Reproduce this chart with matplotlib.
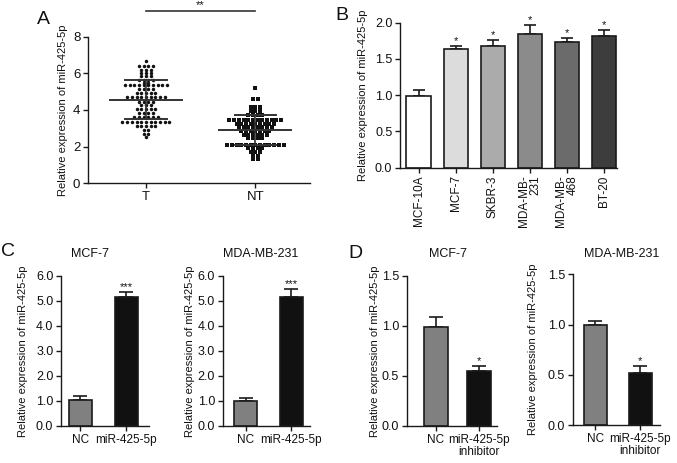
import matplotlib
matplotlib.use("Agg")
import matplotlib.pyplot as plt
import numpy as np

plt.rcParams['font.family'] = ['Liberation Sans', 'DejaVu Sans']

W, H = 677, 463

# ---------------- data ----------------
# Panel A: scatter values (tumour T, non-tumour NT)
t_values = [6.7,
            6.4, 6.4, 6.4, 6.4,
            6.2, 6.2, 6.2,
            6.0, 6.0, 6.0,
            5.85, 5.85, 5.85,
            5.65, 5.65, 5.65, 5.65,
            5.5, 5.5,
            5.35, 5.35, 5.35, 5.35, 5.35, 5.35, 5.35, 5.35, 5.35, 5.35,
            5.15, 5.15, 5.15, 5.15,
            4.95, 4.95, 4.95, 4.95, 4.95,
            4.7, 4.7, 4.7, 4.7, 4.7, 4.7, 4.7, 4.7, 4.7,
            4.45, 4.45, 4.45, 4.45,
            4.25, 4.25, 4.25,
            4.05, 4.05, 4.05, 4.05, 4.05,
            3.85, 3.85, 3.85, 3.85,
            3.6, 3.6, 3.6, 3.6, 3.6, 3.6,
            3.35, 3.35, 3.35, 3.35, 3.35, 3.35, 3.35, 3.35, 3.35, 3.35, 3.35,
            3.1, 3.1, 3.1, 3.1, 3.1,
            2.9, 2.9,
            2.7, 2.7,
            2.5]
nt_values = [5.2,
             4.6, 4.6,
             4.15, 4.15, 4.15,
             3.95, 3.95, 3.95,
             3.75, 3.75, 3.75, 3.75,
             3.45, 3.45, 3.45, 3.45, 3.45, 3.45, 3.45, 3.45, 3.45, 3.45, 3.45, 3.45,
             3.25, 3.25, 3.25, 3.25, 3.25, 3.25, 3.25, 3.25, 3.25,
             3.05, 3.05, 3.05, 3.05, 3.05, 3.05, 3.05, 3.05,
             2.85, 2.85, 2.85, 2.85, 2.85, 2.85, 2.85,
             2.65, 2.65, 2.65, 2.65, 2.65, 2.65,
             2.45, 2.45, 2.45, 2.45,
             2.1, 2.1, 2.1, 2.1, 2.1, 2.1, 2.1, 2.1, 2.1, 2.1, 2.1, 2.1, 2.1,
             1.9, 1.9, 1.9, 1.9,
             1.7, 1.7, 1.7,
             1.5, 1.5,
             1.3, 1.3]
a_groups = ["T", "NT"]

# Panel B
b_lines = ["MCF-10A", "MCF-7", "SKBR-3", "MDA-MB-\n231", "MDA-MB-\n468", "BT-20"]
b_means = [0.99, 1.63, 1.68, 1.84, 1.73, 1.82]
b_errs = [0.08, 0.05, 0.08, 0.12, 0.06, 0.07]
b_colors = ["#ffffff", "#dcdcdc", "#ababab", "#8b8b8b", "#6b6b6b", "#3d3d3d"]
b_stars = ["", "*", "*", "*", "*", "*"]

# Panel C
c_groups = ["NC", "miR-425-5p"]
c_mcf7_means = [1.04, 5.14]
c_mcf7_errs = [0.17, 0.22]
c_mda_means = [0.99, 5.14]
c_mda_errs = [0.14, 0.31]

# Panel D
d_groups = ["NC", "miR-425-5p\ninhibitor"]
d_mcf7_means = [0.99, 0.55]
d_mcf7_errs = [0.10, 0.05]
d_mda_means = [1.0, 0.52]
d_mda_errs = [0.04, 0.07]

# ---------------- helpers ----------------
fig = plt.figure(figsize=(W / 100, H / 100), dpi=100)
EDGE = "#1a1a1a"
TICK_FS = 9.0
LAB_FS = 8.0


def axes_px(l, t, r, b):
    return fig.add_axes([l / W, 1 - b / H, (r - l) / W, (b - t) / H])


def style(ax):
    for s in ("top", "right"):
        ax.spines[s].set_visible(False)
    for s in ("left", "bottom"):
        ax.spines[s].set_linewidth(1.0)
        ax.spines[s].set_color(EDGE)
    ax.tick_params(direction="out", length=3.5, width=1.0, colors=EDGE,
                   labelsize=TICK_FS, labelcolor="#111111", pad=2)


def ylabel_px(ax, xpx, l, r):
    # xpx is the horizontal centre of the rotated label, in pixels
    ax.set_ylabel("Relative expression of miR-425-5p", fontsize=LAB_FS, color="#111111")
    ax.yaxis.set_label_coords((xpx + 5 - l) / (r - l), 0.5)


def bar_panel(box, means, errs, colors, labels, ylim, yticks, yfmt, xlim, width,
              stars, capsize, ylab_x, rot=0, star_fs=8):
    l, t, r, b = box
    ax = axes_px(l, t, r, b)
    x = np.arange(len(means))
    ax.errorbar(x, means, yerr=[np.zeros(len(errs)), errs], fmt="none",
                ecolor=EDGE, elinewidth=1.2, capsize=capsize, capthick=1.2, zorder=1)
    ax.bar(x, means, width=width, color=colors, edgecolor=EDGE, linewidth=1.2, zorder=2)
    for xi, m, e, s in zip(x, means, errs, stars):
        if s:
            ax.text(xi, m + e, s, ha="center", va="bottom", fontsize=star_fs, color="#111111")
    ax.set_xlim(*xlim)
    ax.set_ylim(*ylim)
    ax.set_yticks(yticks)
    ax.set_yticklabels([yfmt.format(v) for v in yticks])
    ax.set_xticks(x)
    style(ax)
    if rot:
        ax.set_xticklabels(labels, rotation=90, ha="center", va="top",
                           multialignment="right", linespacing=1.0, fontsize=8.5)
    else:
        ax.set_xticklabels(labels, linespacing=1.05, fontsize=8.5)
    ylabel_px(ax, ylab_x, l, r)
    return ax


# ---------------- Panel A ----------------
boxA = (88, 37, 310, 183)
axA = axes_px(*boxA)
spacing = 0.043
for gi, (vals, marker, ms) in enumerate([(t_values, "o", 2.5), (nt_values, "s", 2.3)]):
    xc = gi + 1
    arr = np.array(vals)
    xs, ys = [], []
    for v in sorted(set(vals), reverse=True):
        n = int(np.sum(arr == v))
        offs = (np.arange(n) - (n - 1) / 2) * spacing
        xs.extend(xc + offs)
        ys.extend([v] * n)
    axA.plot(xs, ys, linestyle="none", marker=marker, markersize=ms,
             color="#111111", markeredgewidth=0, zorder=2)
    m = arr.mean()
    sd = arr.std(ddof=1)
    axA.plot([xc - 0.33, xc + 0.33], [m, m], color="#333333", lw=1.4, zorder=3)
    axA.plot([xc - 0.19, xc + 0.19], [m + sd, m + sd], color="#333333", lw=1.4, zorder=3)
    axA.plot([xc - 0.19, xc + 0.19], [m - sd, m - sd], color="#333333", lw=1.4, zorder=3)
    axA.plot([xc, xc], [m - sd, m + sd], color="#333333", lw=1.2, zorder=3)
axA.set_xlim(0.47, 2.5)
axA.set_ylim(0, 8)
axA.set_yticks([0, 2, 4, 6, 8])
axA.set_xticks([1, 2])
axA.set_xticklabels(a_groups)
style(axA)
axA.tick_params(labelsize=9.5)
ylabel_px(axA, 63, boxA[0], boxA[2])
# significance bar
axA.plot([1, 2], [9.4, 9.4], color="#333333", lw=1.2, clip_on=False)
axA.text(1.5, 9.45, "**", ha="center", va="bottom", fontsize=8, color="#111111")

# ---------------- Panel B ----------------
bar_panel((400, 22.5, 617, 167.7), b_means, b_errs, b_colors, b_lines,
          (0, 2.0), [0, 0.5, 1.0, 1.5, 2.0], "{:.1f}", (-0.5, 5.36), 0.65,
          b_stars, 4.5, 363, rot=1, star_fs=8)

# ---------------- Panel C ----------------
c_cols = ["#808080", "#111111"]
bar_panel((61, 275.7, 149, 426), c_mcf7_means, c_mcf7_errs, c_cols, c_groups,
          (0, 6.0), [0, 1, 2, 3, 4, 5, 6], "{:.1f}", (-0.42, 1.49), 0.5,
          ["", "***"], 5, 23)
bar_panel((222.7, 275.7, 310, 426), c_mda_means, c_mda_errs, c_cols, c_groups,
          (0, 6.0), [0, 1, 2, 3, 4, 5, 6], "{:.1f}", (-0.51, 1.41), 0.51,
          ["", "***"], 5, 190)

# ---------------- Panel D ----------------
bar_panel((406.7, 275.7, 497, 426), d_mcf7_means, d_mcf7_errs, c_cols, d_groups,
          (0, 1.5), [0, 0.5, 1.0, 1.5], "{:.1f}", (-0.68, 1.42), 0.57,
          ["", "*"], 5, 375)
bar_panel((572.7, 274.3, 660, 425), d_mda_means, d_mda_errs, c_cols, d_groups,
          (0, 1.5), [0, 0.5, 1.0, 1.5], "{:.1f}", (-0.5, 1.44), 0.52,
          ["", "*"], 5, 533)

# ---------------- titles and panel letters ----------------
def ftext(xpx, ypx, s, **kw):
    fig.text(xpx / W, 1 - ypx / H, s, **kw)

for xp, s in [(90, "MCF-7"), (261, "MDA-MB-231"), (448, "MCF-7"), (622, "MDA-MB-231")]:
    ftext(xp, 254, s, ha="center", va="center", fontsize=9, color="#111111")

for xp, yp, s in [(43, 20, "A"), (342, 15, "B"), (8, 252, "C"), (355, 254, "D")]:
    ftext(xp, yp, s, ha="center", va="center", fontsize=14, color="#111111")

fig.savefig("out.png", dpi=100)
